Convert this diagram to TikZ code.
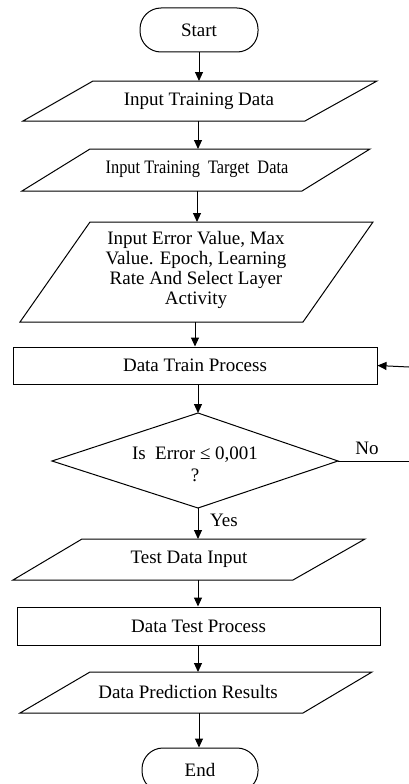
\documentclass[tikz,border=0pt]{standalone}
\usepackage{fontspec}
\setmainfont{Liberation Serif}
\usepackage{graphicx}
\usetikzlibrary{arrows.meta}
\begin{document}
\begin{tikzpicture}[x=1pt,y=-1pt,
  shp/.style={draw=black,line width=1pt},
  arr/.style={draw=black,line width=1pt,-{Triangle[length=9pt,width=8pt]}},
  txt/.style={font=\fontsize{19}{20}\selectfont,inner sep=0pt,align=center},
  lbl/.style={font=\fontsize{19}{20}\selectfont,inner sep=0pt}]
\useasboundingbox (0,0) rectangle (409,784);

% Start
\node[shp,txt,rounded corners=21pt,minimum width=118pt,minimum height=44pt] (start) at (199,30) {Start};

% Input Training Data
\draw[shp] (93,81) -- (377,81) -- (305,121) -- (23,121) -- cycle;
\coordinate (p1t) at (199,81);
\coordinate (p1b) at (198,121);
\node[txt] (p1) at (199,101) {Input Training Data};

% Input Training Target Data
\draw[shp] (90,149) -- (370,149) -- (302,191) -- (22,191) -- cycle;
\coordinate (p2t) at (198,149);
\coordinate (p2b) at (197,191);
\node[txt] (p2) at (197,169) {\scalebox{0.86}[1]{Input Training\ \ Target\ \ Data}};

% Input Error Value ...
\draw[shp] (90,222) -- (373,222) -- (303,322) -- (20,322) -- cycle;
\coordinate (p3t) at (197,222);
\coordinate (p3b) at (195,322);
\node[txt] (p3) at (196,270) {Input Error Value, Max\\Value. Epoch, Learning\\Rate And Select Layer\\Activity};

% Data Train Process
\node[shp,txt,minimum width=364pt,minimum height=37pt] (train) at (195,365.5) {Data Train Process};
\coordinate (loopin) at (409,367);

% Decision
\coordinate (dt) at (198,413);
\coordinate (dr) at (338,461);
\coordinate (db) at (198,508);
\coordinate (dl) at (52,461);
\draw[shp] (dt) -- (dr) -- (db) -- (dl) -- cycle;
\node[txt,font=\fontsize{19}{22}\selectfont] (dec) at (195,464) {Is\ \ Error ≤ 0,001\\?};
\node[lbl] (no) at (367,448) {No};
\coordinate (noend) at (409,461);
\node[lbl] (yes) at (224,520) {Yes};

% Test Data Input
\draw[shp] (82,539) -- (365,539) -- (293,580) -- (13,580) -- cycle;
\coordinate (p4t) at (198,539);
\coordinate (p4b) at (198,580);
\node[txt] (p4) at (189,559) {Test Data Input};

% Data Test Process
\node[shp,txt,minimum width=363pt,minimum height=38pt] (test) at (198.5,626) {Data Test Process};

% Data Prediction Results
\draw[shp] (90,672) -- (372,672) -- (303,713) -- (20,713) -- cycle;
\coordinate (p5t) at (198,672);
\coordinate (p5b) at (199,713);
\node[txt] (p5) at (188,692) {Data Prediction Results};

% End
\node[shp,txt,rounded corners=21pt,minimum width=116pt,minimum height=44pt] (end) at (200,770) {End};

% Connectors
\draw[arr] (start.south) -- (p1t);
\draw[arr] (p1b) -- (p2t);
\draw[arr] (p2b) -- (p3t);
\draw[arr] (p3b) -- (train.north);
\draw[arr] (loopin) -- (train.east);
\draw[arr] (train.south -| dt) -- (dt);
\draw[shp] (dr) -- (noend);
\draw[arr] (db) -- (p4t);
\draw[arr] (p4b) -- (test.north -| p4b);
\draw[arr] (test.south -| p5t) -- (p5t);
\draw[arr] (p5b) -- (end.north -| p5b);
\end{tikzpicture}
\end{document}
